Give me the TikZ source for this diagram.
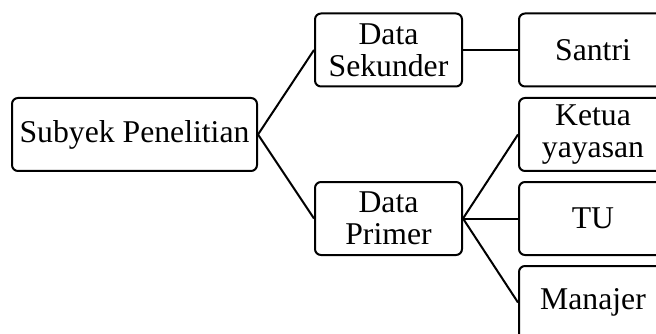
\documentclass[tikz,border=0pt]{standalone}
\usepackage{fontspec}
\setmainfont{Liberation Serif}
\begin{document}
\begin{tikzpicture}[x=1pt,y=-1pt,
  box/.style={draw, line width=2pt, rounded corners=6pt, minimum width=147pt, minimum height=73pt, inner sep=0pt, align=center, font=\fontsize{31.7}{32}\selectfont},
  link/.style={line width=2pt}]
\useasboundingbox (0,0) rectangle (656,334);
\clip (0,0) rectangle (656,334);
\node[box, minimum width=245pt] (sub) at (134.5,134.5) {Subyek Penelitian};
\node[box] (sek) at (388.5,50) {Data\\Sekunder};
\node[box] (pri) at (388.5,218.5) {Data\\Primer};
\node[box, minimum width=148pt] (san) at (593,50) {Santri};
\node[box, minimum width=148pt] (ket) at (593,134.5) {Ketua\\yayasan};
\node[box, minimum width=148pt] (tu) at (593,218.5) {TU};
\node[box, minimum width=148pt] (man) at (593,302.5) {Manajer};
\draw[link] (sub.east) -- (sek.west);
\draw[link] (sub.east) -- (pri.west);
\draw[link] (sek.east) -- (san.west);
\draw[link] (pri.east) -- (ket.west);
\draw[link] (pri.east) -- (tu.west);
\draw[link] (pri.east) -- (man.west);
\end{tikzpicture}
\end{document}
